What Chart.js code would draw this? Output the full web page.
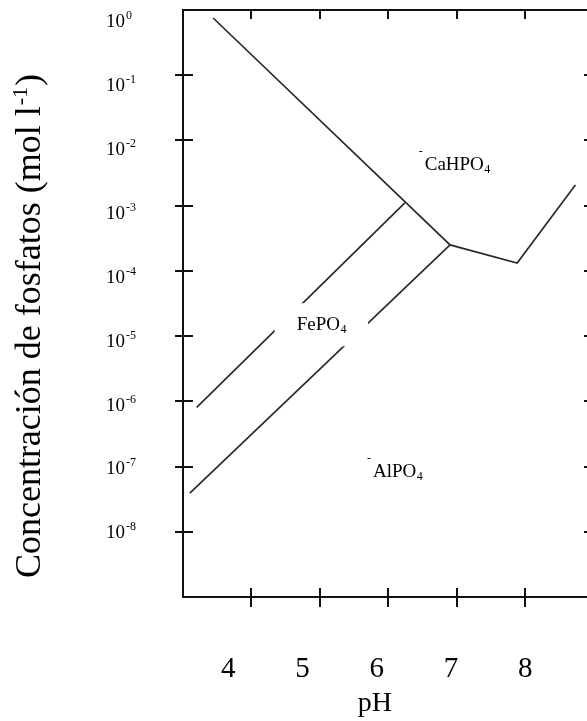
<!DOCTYPE html>
<html>
<head>
<meta charset="utf-8">
<script src="https://cdn.jsdelivr.net/npm/chart.js@4.4.1/dist/chart.umd.min.js"></script>
<style>
  html, body { margin: 0; padding: 0; background: #fff; }
</style>
</head>
<body>
<canvas id="chart" width="587" height="721"></canvas>
<script>
// Límites de solubilidad de los fosfatos frente al pH
const caPH   = [3.44, 6.90, 7.88, 8.73];
const caConc = [0.754, 2.5e-4, 1.32e-4, 2.08e-3];
const fePH   = [3.20, 6.24];
const feConc = [8.1e-7, 1.1e-3];
const alPH   = [3.10, 6.90];
const alConc = [3.9e-8, 2.5e-4];

// Ejes
const phTicks  = [4, 5, 6, 7, 8];
const concExps = [0, -1, -2, -3, -4, -5, -6, -7, -8];

// Nombres de las zonas (texto, subíndice, posición en pH / concentración)
const zoneNames = ['CaHPO', 'FePO', 'AlPO'];
const zoneSubs  = ['4', '4', '4'];
const zonePH    = [6.53, 4.66, 5.775];
const zoneConc  = [3.5e-3, 1.23e-5, 6.9e-8];
const zoneDash  = [true, false, true];
const zoneBox   = [false, true, false];

const SERIF = '"Liberation Serif", "Times New Roman", serif';

function pts(xs, ys) {
  return xs.map((v, i) => ({ x: v, y: ys[i] }));
}

const frame = {
  id: 'frame',
  afterDatasetsDraw(chart) {
    const { ctx, chartArea: a, scales: { x, y } } = chart;
    ctx.save();
    ctx.fillStyle = '#000';
    ctx.textAlign = 'left';
    ctx.textBaseline = 'alphabetic';

    // etiquetas de zona
    zoneNames.forEach((name, i) => {
      const px = x.getPixelForValue(zonePH[i]);
      const py = y.getPixelForValue(zoneConc[i]);
      ctx.font = '19px ' + SERIF;
      const w = ctx.measureText(name).width;
      ctx.font = '12px ' + SERIF;
      const ws = ctx.measureText(zoneSubs[i]).width;
      if (zoneBox[i]) {
        ctx.fillStyle = '#fff';
        ctx.fillRect(px - 22, py - 27, w + ws + 44, 43);
        ctx.fillStyle = '#000';
      }
      ctx.font = '19px ' + SERIF;
      ctx.fillText(name, px, py);
      ctx.font = '12px ' + SERIF;
      ctx.fillText(zoneSubs[i], px + w + 0.5, py + 3);
      if (zoneDash[i]) ctx.fillText('-', px - 6, py - 15);
    });

    // marco
    ctx.strokeStyle = '#111';
    ctx.lineWidth = 2;
    ctx.beginPath();
    ctx.moveTo(a.right, a.top);
    ctx.lineTo(a.left, a.top);
    ctx.lineTo(a.left, a.bottom);
    ctx.lineTo(a.right, a.bottom);
    ctx.stroke();

    // marcas del eje y (izquierda y derecha)
    ctx.beginPath();
    concExps.forEach(e => {
      if (e === 0) return;
      const ty = Math.round(y.getPixelForValue(Math.pow(10, e)));
      ctx.moveTo(a.left - 8, ty);
      ctx.lineTo(a.left + 10, ty);
      ctx.moveTo(a.right - 3, ty);
      ctx.lineTo(a.right, ty);
    });
    // marcas del eje x (abajo y arriba)
    phTicks.forEach(v => {
      const tx = Math.round(x.getPixelForValue(v));
      ctx.moveTo(tx, a.bottom - 9);
      ctx.lineTo(tx, a.bottom + 10);
      ctx.moveTo(tx, a.top);
      ctx.lineTo(tx, a.top + 9);
    });
    ctx.stroke();

    // rótulos del eje y: 10 con exponente
    concExps.forEach(e => {
      const ty = y.getPixelForValue(Math.pow(10, e));
      const cy = a.top + 11 + (ty - a.top) * 0.98;
      ctx.font = '19px ' + SERIF;
      ctx.fillText('10', 106, cy + 6);
      const w = ctx.measureText('10').width;
      ctx.font = '12px ' + SERIF;
      ctx.fillText(String(e), 106 + w + 1, cy - 2);
    });

    // rótulos del eje x
    const x8 = x.getPixelForValue(8);
    const labelX = v => x8 + (x.getPixelForValue(v) - x8) * 1.085;
    ctx.textAlign = 'center';
    ctx.font = '29px ' + SERIF;
    phTicks.forEach(v => ctx.fillText(String(v), labelX(v), 677));
    ctx.font = '28px ' + SERIF;
    ctx.fillText('pH', labelX(6) - 2, 711);

    // título del eje y
    ctx.textAlign = 'left';
    ctx.translate(40, 327);
    ctx.rotate(-Math.PI / 2);
    const t1 = 'Concentración de fosfatos (mol l', t2 = '-1', t3 = ')';
    ctx.font = '36px ' + SERIF;
    const w1 = ctx.measureText(t1).width, w3 = ctx.measureText(t3).width;
    ctx.font = '22px ' + SERIF;
    const w2 = ctx.measureText(t2).width;
    const s = -(w1 + w2 + w3) / 2;
    ctx.font = '36px ' + SERIF;
    ctx.fillText(t1, s, 0);
    ctx.font = '22px ' + SERIF;
    ctx.fillText(t2, s + w1 + 1, -13);
    ctx.font = '36px ' + SERIF;
    ctx.fillText(t3, s + w1 + w2 + 2, 0);

    ctx.restore();
  }
};

const lineStyle = {
  showLine: true,
  borderColor: '#2a2a2a',
  borderWidth: 1.7,
  pointRadius: 0,
  tension: 0,
  fill: false
};

new Chart(document.getElementById('chart').getContext('2d'), {
  type: 'scatter',
  data: {
    datasets: [
      Object.assign({ label: 'CaHPO4', data: pts(caPH, caConc) }, lineStyle),
      Object.assign({ label: 'FePO4', data: pts(fePH, feConc) }, lineStyle),
      Object.assign({ label: 'AlPO4', data: pts(alPH, alConc) }, lineStyle)
    ]
  },
  options: {
    responsive: false,
    animation: false,
    events: [],
    layout: { padding: { left: 183, top: 10, right: 0, bottom: 124 } },
    plugins: { legend: { display: false }, tooltip: { enabled: false } },
    scales: {
      x: { type: 'linear', min: 3.0, max: 8.9, display: false },
      y: { type: 'logarithmic', min: 1e-9, max: 1, display: false }
    }
  },
  plugins: [frame]
});
</script>
</body>
</html>
